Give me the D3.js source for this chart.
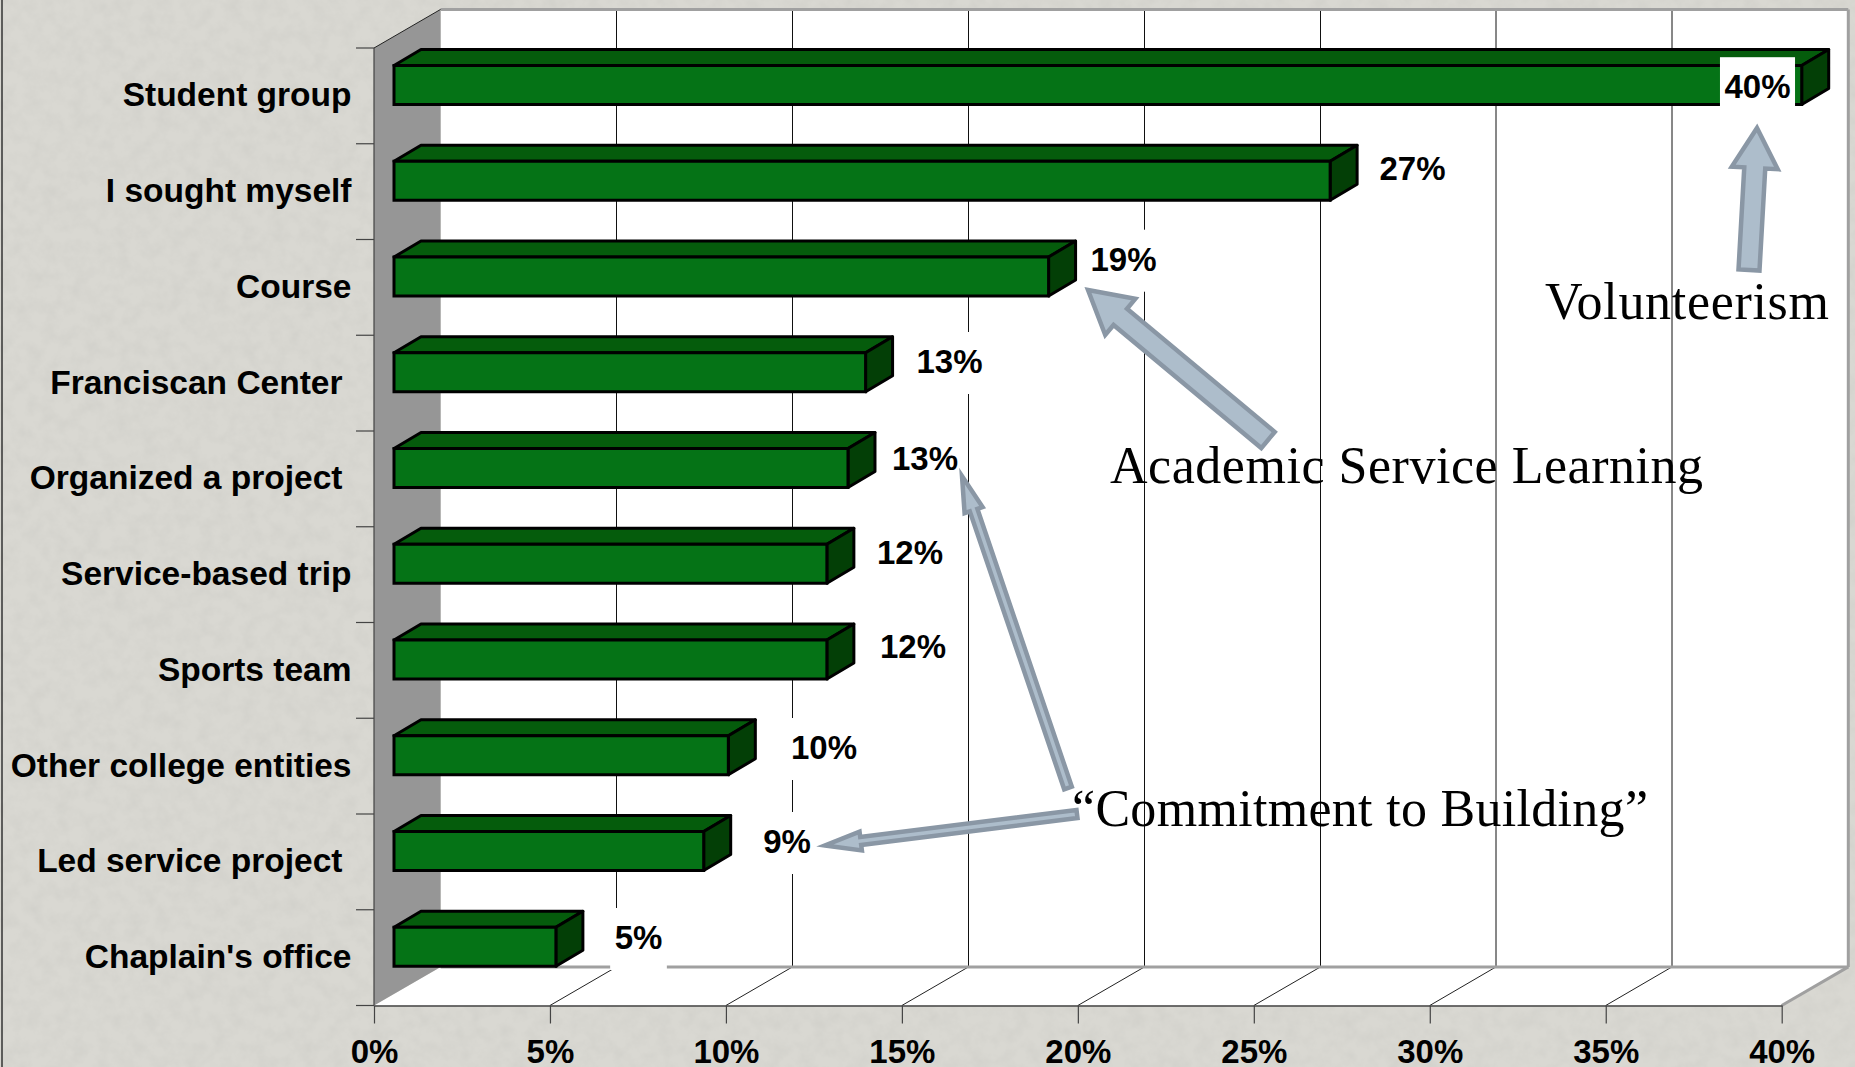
<!DOCTYPE html>
<html>
<head>
<meta charset="utf-8">
<title>Service involvement</title>
<script src="https://cdn.jsdelivr.net/npm/d3@7"></script>
<style>
  html, body { margin: 0; padding: 0; background: #d6d5cf; overflow: hidden; }
  svg { display: block; }
  .sans { font-family: "Liberation Sans", Arial, sans-serif; font-weight: bold; fill: #000; }
  .serif { font-family: "Liberation Serif", "Times New Roman", serif; fill: #000; }
</style>
</head>
<body>
<script>
// values
var categories = ["Student group", "I sought myself", "Course", "Franciscan Center", "Organized a project",
                  "Service-based trip", "Sports team", "Other college entities", "Led service project", "Chaplain's office"];
var values     = [40, 26.6, 18.6, 13.4, 12.9, 12.3, 12.3, 9.5, 8.8, 4.6];
var valueText  = ["40%", "27%", "19%", "13%", "13%", "12%", "12%", "10%", "9%", "5%"];
var xTicks     = [0, 5, 10, 15, 20, 25, 30, 35, 40];

// hand placed stuff, same as the slide
var catInset   = [0, 0, 0, 9, 9, 0, 0, 0, 9, 0];
var labelPos   = [[1757.5, 98.2], [1412.5, 180], [1123.5, 270.7], [949.5, 373], [925, 470],
                  [910, 564], [913, 658], [824, 759], [787, 853], [638.5, 949]];
var notes = [
  {text: "Volunteerism", x: 1545, y: 319, w: 284},
  {text: "Academic Service Learning", x: 1110, y: 483, w: 593},
  {text: "\u201cCommitment to Building\u201d", x: 1072, y: 826, w: 576}
];
var arrows = [
  {tip: [1757, 128], tail: [1749, 270], shaft: 21, head: 46, len: 40},
  {tip: [1088, 290], tail: [1268, 440], shaft: 21, head: 47, len: 42},
  {tip: [962, 476], tail: [1068, 788], shaft: 8, head: 19, len: 36},
  {tip: [825, 845.5], tail: [1077, 814], shaft: 8, head: 19, len: 36}
];

var W = 1855, H = 1067;
var floorFront = 1005.5, wallTop = 48, x0 = 374;
var depthX = 66.6, depthY = 38.6;   // depth of the chart box
var barDX = 27, barDY = 16;         // depth of a bar

var x = d3.scaleLinear().domain([0, 40]).range([x0, 1781.7]);
var y = d3.scaleBand().domain(categories).range([wallTop, floorFront]);
var barStart = 394;
var barX = d3.scaleLinear().domain([0, 40]).range([barStart, barStart + x(40) - x0]);

var svg = d3.select("body").append("svg").attr("width", W).attr("height", H);

// stone background
var defs = svg.append("defs");
var stone = defs.append("filter").attr("id", "stone").attr("x", 0).attr("y", 0).attr("width", "100%").attr("height", "100%");
stone.append("feTurbulence").attr("type", "fractalNoise").attr("baseFrequency", 0.07).attr("numOctaves", 4).attr("seed", 7);
stone.append("feColorMatrix").attr("type", "matrix")
  .attr("values", "0 0 0 0 0.5  0 0 0 0 0.5  0 0 0 0 0.47  0.4 0 0 0 -0.14");
svg.append("rect").attr("width", W).attr("height", H).attr("fill", "#d9d8d2");
svg.append("rect").attr("width", W).attr("height", H).attr("filter", "url(#stone)");
svg.append("line").attr("x1", 2).attr("x2", 2).attr("y1", 0).attr("y2", H).attr("stroke", "#333").attr("stroke-width", 1.5);

// white box: back wall and floor
var backL = x0 + depthX, backR = x(40) + depthX, backT = wallTop - depthY, backB = floorFront - depthY;
var box = svg.append("g");
box.append("polygon").attr("fill", "#fff")
  .attr("points", [[backL, backT], [backR, backT], [backR, backB], [x(40), floorFront], [x0, floorFront], [backL, backB]].join(" "));
box.append("polygon").attr("fill", "#969696")
  .attr("points", [[x0, wallTop], [backL, backT], [backL, backB], [x0, floorFront]].join(" "));

// gridlines on the wall + floor
// left ones land crisp on a pixel, the last two smear to grey in the slide
function wallX(d) {
  var v = x(d) + depthX;
  return d <= 25 ? Math.floor(v) + 0.5 : Math.round(v);
}
var grid = svg.append("g");
grid.selectAll(".wall").data(xTicks.slice(1, -1)).enter().append("line")
  .attr("x1", wallX).attr("x2", wallX)
  .attr("y1", backT).attr("y2", backB)
  .attr("stroke", "#111").attr("stroke-width", 1);
grid.selectAll(".floor").data(xTicks.slice(1, -1)).enter().append("line")
  .attr("x1", function(d) { return x(d); }).attr("x2", wallX)
  .attr("y1", floorFront).attr("y2", backB)
  .attr("stroke", "#222").attr("stroke-width", 1);

// grey frame
var frame = [
  [[backL, backT], [backR, backT]], [[backR, backT], [backR, backB]],
  [[backL, backB], [backR, backB]], [[backR, backB], [x(40), floorFront]]
];
grid.selectAll(".frame").data(frame).enter().append("line")
  .attr("x1", function(d) { return d[0][0]; }).attr("y1", function(d) { return d[0][1]; })
  .attr("x2", function(d) { return d[1][0]; }).attr("y2", function(d) { return d[1][1]; })
  .attr("stroke", "#a0a0a0").attr("stroke-width", 3);
grid.append("line").attr("x1", x0).attr("y1", wallTop).attr("x2", backL).attr("y2", backT)
  .attr("stroke", "#222").attr("stroke-width", 1);

// axes
var xAxis = d3.axisBottom(x).tickValues(xTicks).tickSize(18).tickSizeOuter(0)
  .tickFormat(function(d) { return d + "%"; });
var xAxisEl = svg.append("g").attr("transform", "translate(0," + floorFront + ")").call(xAxis);
xAxisEl.select(".domain").attr("stroke", "#444").attr("stroke-width", 1.5);
xAxisEl.selectAll(".tick line").attr("stroke", "#444").attr("stroke-width", 1.2);
xAxisEl.selectAll(".tick text").attr("class", "sans").attr("y", 57.2).attr("dy", 0)
  .style("font-size", "33px").style("font-family", null).attr("fill", "#000");

// category ticks sit on the band edges
var yEdges = categories.map(function(c) { return y(c); }).concat([floorFront]);
svg.append("line").attr("x1", x0).attr("x2", x0).attr("y1", wallTop).attr("y2", floorFront)
  .attr("stroke", "#444").attr("stroke-width", 1.2);
svg.selectAll(".ytick").data(yEdges).enter().append("line")
  .attr("x1", x0 - 18).attr("x2", x0)
  .attr("y1", function(d) { return d; }).attr("y2", function(d) { return d; })
  .attr("stroke", "#444").attr("stroke-width", 1.2);

svg.selectAll(".cat").data(categories).enter().append("text")
  .attr("class", "sans").attr("text-anchor", "end")
  .attr("x", function(d, i) { return 351.5 - catInset[i]; })
  .attr("y", function(d) { return y(d) + 58.4; })
  .style("font-size", "33.5px")
  .text(function(d) { return d; });

// 3d bars
var bars = svg.selectAll(".bar").data(categories).enter().append("g").attr("class", "bar");
function front(d) { return y(d) + 17.5; }
var barH = 39;
bars.append("polygon").attr("fill", "#055c0c").attr("stroke", "#000").attr("stroke-width", 3).attr("stroke-linejoin", "round")
  .attr("points", function(d, i) {
    var t = front(d), r = barX(values[i]);
    return [[barStart, t], [barStart + barDX, t - barDY], [r + barDX, t - barDY], [r, t]].join(" ");
  });
bars.append("polygon").attr("fill", "#033f06").attr("stroke", "#000").attr("stroke-width", 3).attr("stroke-linejoin", "round")
  .attr("points", function(d, i) {
    var t = front(d), r = barX(values[i]);
    return [[r, t], [r + barDX, t - barDY], [r + barDX, t - barDY + barH], [r, t + barH]].join(" ");
  });
bars.append("rect").attr("fill", "#057316").attr("stroke", "#000").attr("stroke-width", 3)
  .attr("x", barStart).attr("y", function(d) { return front(d); })
  .attr("width", function(d, i) { return barX(values[i]) - barStart; })
  .attr("height", barH);

// value labels have a white frame that hides what is behind
var labels = svg.selectAll(".val").data(valueText).enter().append("g");
labels.append("text").attr("class", "sans").attr("text-anchor", "middle")
  .attr("x", function(d, i) { return labelPos[i][0]; })
  .attr("y", function(d, i) { return labelPos[i][1]; })
  .style("font-size", "33px")
  .text(function(d) { return d; });
labels.insert("rect", "text").attr("fill", "#fff")
  .attr("x", function(d, i) { return labelPos[i][0] - this.parentNode.querySelector("text").getComputedTextLength() / 2 - 4.5; })
  .attr("y", function(d, i) { return labelPos[i][1] - 41; })
  .attr("width", function() { return this.parentNode.querySelector("text").getComputedTextLength() + 9; })
  .attr("height", 62);

// callout arrows
function arrowPath(a) {
  var dx = a.tail[0] - a.tip[0], dy = a.tail[1] - a.tip[1], l = Math.sqrt(dx * dx + dy * dy);
  var ux = dx / l, uy = dy / l, nx = -uy, ny = ux;
  function p(along, side) { return [a.tip[0] + ux * along + nx * side, a.tip[1] + uy * along + ny * side]; }
  return [p(0, 0), p(a.len, a.head / 2), p(a.len, a.shaft / 2), p(l, a.shaft / 2),
          p(l, -a.shaft / 2), p(a.len, -a.shaft / 2), p(a.len, -a.head / 2)].join(" ");
}
svg.selectAll(".arrow").data(arrows).enter().append("polygon")
  .attr("points", arrowPath)
  .attr("fill", "#adbdcb").attr("stroke", "#8a97a5").attr("stroke-width", 4.5).attr("stroke-linejoin", "miter");

svg.selectAll(".note").data(notes).enter().append("text")
  .attr("class", "serif")
  .attr("x", function(d) { return d.x; }).attr("y", function(d) { return d.y; })
  .attr("textLength", function(d) { return d.w; }).attr("lengthAdjust", "spacing")
  .style("font-size", "52px")
  .text(function(d) { return d.text; });
</script>
</body>
</html>
